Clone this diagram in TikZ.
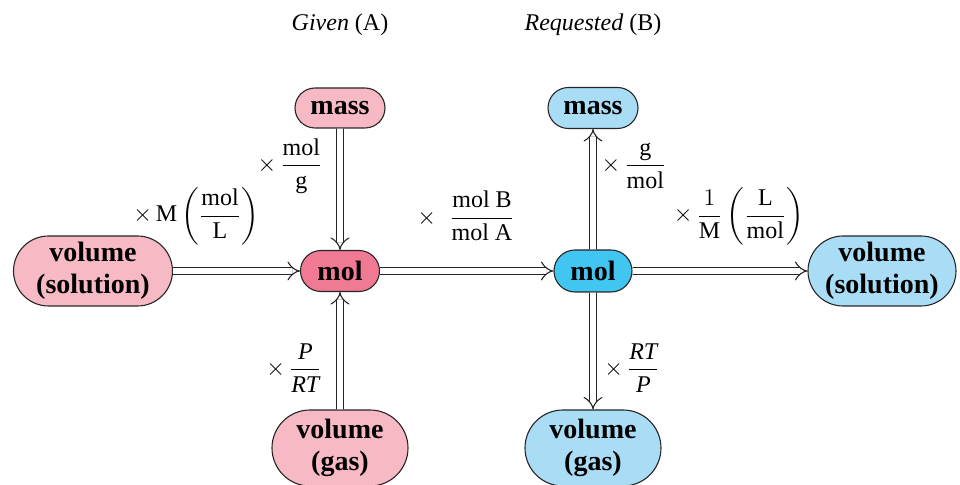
\documentclass[tikz,border=0pt]{standalone}
\usepackage{amsmath}
\usepackage{fontspec}
\setmainfont{Liberation Serif}
\usetikzlibrary{arrows.meta,shapes.misc}
\definecolor{pinkl}{HTML}{F7B9C4}
\definecolor{pinkd}{HTML}{F07A93}
\definecolor{bluel}{HTML}{A9DDF6}
\definecolor{blued}{HTML}{40C6F1}

\begin{document}
\begin{tikzpicture}[
  x=0.5pt, y=-0.5pt,
  font=\fontsize{12}{14}\selectfont,
  box/.style={rounded rectangle,draw=black!85,line width=0.55pt,inner sep=1pt,
              align=center,font=\fontsize{14}{16}\selectfont\bfseries},
  cv/.style={draw=black!85,line width=0.55pt,double=white,double distance=2.8pt,
             -{Implies[scale=1.3]}},
  lbl/.style={inner sep=0pt}]
\useasboundingbox (0,0) rectangle (960,485);

% ---------------- headings ----------------
\node (hA) at (340,25) {\textit{Given} (A)};
\node (hB) at (593,25) {\textit{Requested} (B)};

% ---------------- given side (A) ----------------
\node[box,fill=pinkl,minimum width=47pt,minimum height=20pt] (massA) at (340,108) {mass};
\node[box,fill=pinkd,minimum width=41.5pt,minimum height=20.5pt] (molA) at (340,271) {mol};
\node[box,fill=pinkl,minimum width=81.5pt,minimum height=35pt] (volsolA) at (93,271) {volume\\(solution)};
\node[box,fill=pinkl,minimum width=70pt,minimum height=38pt] (volgasA) at (340,448) {volume\\(gas)};

% ---------------- requested side (B) ----------------
\node[box,fill=bluel,minimum width=47pt,minimum height=20.5pt] (massB) at (593,108) {mass};
\node[box,fill=blued,minimum width=41pt,minimum height=21pt] (molB) at (593,271) {mol};
\node[box,fill=bluel,minimum width=76pt,minimum height=35pt] (volsolB) at (882,271) {volume\\(solution)};
\node[box,fill=bluel,minimum width=70pt,minimum height=38pt] (volgasB) at (593,448) {volume\\(gas)};

% ---------------- conversions ----------------
\draw[cv] (massA) -- (molA);
\draw[cv] (volgasA) -- (molA);
\draw[cv] (volsolA) -- (molA);
\draw[cv] (molA) -- (molB);
\draw[cv] (molB) -- (massB);
\draw[cv] (molB) -- (volsolB);
\draw[cv] (molB) -- (volgasB);

% ---------------- factors ----------------
\node[lbl] (fmassA) at (290,166) {$\times\,\dfrac{\text{mol}}{\text{g}}$};
\node[lbl] (fsolA) at (196,216) {$\times\,\text{M}\left(\dfrac{\text{mol}}{\text{L}}\right)$};
\node[lbl] (fratio) at (466,216) {$\times\;\;\dfrac{\text{mol B}}{\text{mol A}}$};
\node[lbl] (fgasA) at (294,368) {$\times\,\dfrac{\textit{P}}{\textit{RT}}$};
\node[lbl] (fmassB) at (634,166) {$\times\,\dfrac{\text{g}}{\text{mol}}$};
\node[lbl] (fsolB) at (739,216) {$\times\,\dfrac{1}{\text{M}}\left(\dfrac{\text{L}}{\text{mol}}\right)$};
\node[lbl] (fgasB) at (632,368) {$\times\,\dfrac{\textit{RT}}{\textit{P}}$};
\end{tikzpicture}
\end{document}
